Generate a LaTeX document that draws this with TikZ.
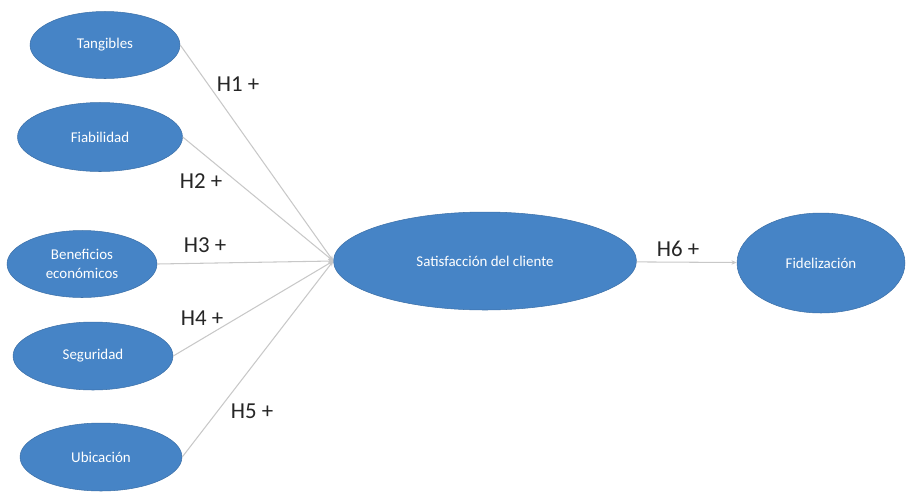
\documentclass[tikz,border=0pt]{standalone}
\usepackage{fontspec}
\setmainfont{Carlito}
\usetikzlibrary{shapes.geometric,arrows.meta}
\definecolor{ovalblue}{RGB}{70,132,198}
\definecolor{linkgray}{RGB}{200,200,200}
\tikzset{
  factor/.style={ellipse, fill=ovalblue, draw=ovalblue!85!black, line width=0.3pt,
    text=white, inner sep=0pt, align=center,
    font=\fontsize{8.5}{11}\selectfont},
  link/.style={draw=linkgray, line width=0.6pt, -{Stealth[length=3pt,width=2.5pt]}},
  hyp/.style={text=black!85, font=\fontsize{13}{15}\selectfont}
}
\begin{document}
\begin{tikzpicture}[x=0.02cm,y=-0.02cm]
  \useasboundingbox (0,0) rectangle (907,491);
  % factores
  \node[factor, minimum width=3.0cm, minimum height=1.34cm] (tang) at (105,45) {Tangibles};
  \node[factor, minimum width=3.3cm, minimum height=1.38cm] (fiab) at (100,137) {Fiabilidad};
  \node[factor, minimum width=3.0cm, minimum height=1.34cm] (bene) at (82,264) {Beneficios\\económicos};
  \node[factor, minimum width=3.2cm, minimum height=1.36cm] (segu) at (93,356) {Seguridad};
  \node[factor, minimum width=3.24cm, minimum height=1.36cm] (ubic) at (101,457) {Ubicación};
  \node[factor, minimum width=6.06cm, minimum height=1.96cm] (sat) at (485,261) {Satisfacción del cliente};
  \node[factor, minimum width=3.36cm, minimum height=2.0cm] (fid) at (821,263) {Fidelización};
  % hipotesis
  \draw[link] (tang.east) -- (sat.west);
  \draw[link] (fiab.east) -- (sat.west);
  \draw[link] (bene.east) -- (sat.west);
  \draw[link] (segu.east) -- (sat.west);
  \draw[link] (ubic.east) -- (sat.west);
  \draw[link] (sat) -- (fid);
  \node[hyp] (h1) at (238,84) {H1 +};
  \node[hyp] (h2) at (201,181) {H2 +};
  \node[hyp] (h3) at (205,245) {H3 +};
  \node[hyp] (h4) at (202,318) {H4 +};
  \node[hyp] (h5) at (252,411) {H5 +};
  \node[hyp] (h6) at (678,249) {H6 +};
\end{tikzpicture}
\end{document}
